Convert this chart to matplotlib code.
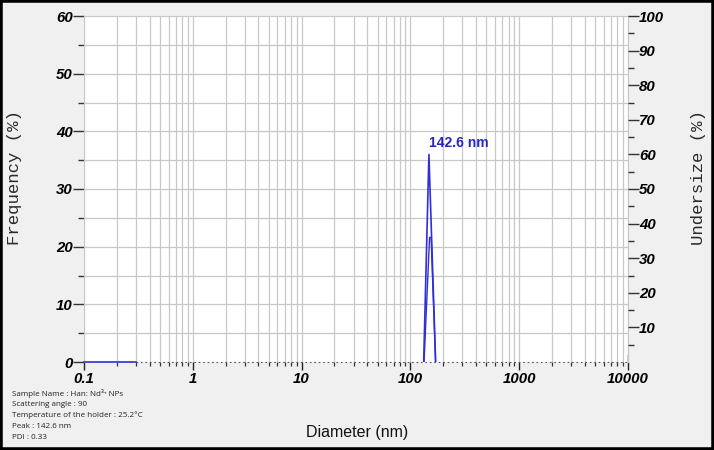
import numpy as np
import matplotlib
matplotlib.use('Agg')
import matplotlib.pyplot as plt
from matplotlib.patches import Rectangle
from matplotlib.ticker import FixedLocator, NullFormatter

# ---- data ----
freq_d = [0.1, 0.3]              # solid blue baseline at the left
freq_base = [0.0, 0.0]
peak_d = [132.5, 148.0, 170.5]   # frequency triangle (nm)
peak_f = [0.0, 36.0, 0.0]        # frequency (%)
under_d = [133.5, 150.0, 155.0, 170.5]
under_v = [0.0, 36.0, 36.0, 0.0]  # undersize (%)
peak_label = '142.6 nm'
x_ticks = [0.1, 1, 10, 100, 1000, 10000]
x_labels = ['0.1', '1', '10', '100', '1000', '10000']
info_lines = [
    'Sample Name : Han: Nd\u00b3\u207a NPs',
    'Scattering angle : 90',
    'Temperature of the holder : 25.2\u00b0C',
    'Peak : 142.6 nm',
    'PDI : 0.33',
]

BLUE = '#2f2fd8'
GRID = '#c8c8c8'
tick_font = dict(family='Liberation Sans', weight='bold', style='italic', size=10.8)

fig = plt.figure(figsize=(7.14, 4.5), dpi=100, facecolor='#f0f0f0')
ax = fig.add_axes([84 / 714, 1 - 362 / 450, 544 / 714, 346 / 450])
ax.set_facecolor('white')
ax.set_xscale('log')
ax.set_xlim(0.1, 10000)
ax.set_ylim(0, 60)

# grid
minors = [m * 10.0 ** e for e in range(-1, 4) for m in range(1, 10)] + [10000]
for xv in minors:
    ax.axvline(xv, color=GRID, lw=0.9, zorder=0)
for yv in range(5, 60, 5):
    ax.axhline(yv, color=GRID, lw=0.9, zorder=0)

for s in ax.spines.values():
    s.set_color(GRID)
ax.spines['bottom'].set_visible(False)

# dotted baseline
ax.plot([0.3, 10000], [0, 0], color='#555555', lw=0.8, ls=(0, (1.5, 2.5)), zorder=2, clip_on=False)

ax.plot(freq_d, freq_base, color=BLUE, lw=1.2, zorder=3, clip_on=False)
ax.plot(peak_d, peak_f, color=BLUE, lw=1.2, zorder=4)

ax2 = ax.twinx()
ax2.set_ylim(0, 100)
ax2.plot(under_d, under_v, color=BLUE, lw=1.0, zorder=4)
for s in ax2.spines.values():
    s.set_visible(False)

ax.annotate(peak_label, xy=(148, 36), xytext=(0, 3.5), textcoords='offset points',
            ha='left', va='bottom', color='#2424c8', fontsize=10,
            family='Liberation Sans', weight='bold')

# x ticks
ax.xaxis.set_major_locator(FixedLocator(x_ticks))
ax.xaxis.set_minor_locator(FixedLocator([v for v in minors if v not in x_ticks]))
ax.xaxis.set_minor_formatter(NullFormatter())
ax.set_xticklabels(x_labels, fontdict=tick_font)
ax.tick_params(axis='x', which='major', direction='out', length=6, width=1, color='#222222', pad=1)
ax.tick_params(axis='x', which='minor', direction='out', length=3, width=0.9, color='#333333')

# left y ticks
ax.set_yticks(range(0, 61, 10))
ax.set_yticks(range(5, 60, 10), minor=True)
ax.set_yticklabels([str(v) for v in range(0, 61, 10)], fontdict=tick_font)
ax.tick_params(axis='y', which='major', direction='out', length=8, width=1, color='#333333', pad=0)
ax.tick_params(axis='y', which='minor', direction='out', length=4, width=1, color='#333333')

# right y ticks
ax2.set_yticks(range(10, 101, 10))
ax2.set_yticks(range(5, 100, 10), minor=True)
ax2.set_yticklabels([str(v) for v in range(10, 101, 10)], fontdict=tick_font)
ax2.tick_params(axis='y', which='major', direction='out', length=8, width=1, color='#333333', pad=0)
ax2.tick_params(axis='y', which='minor', direction='out', length=4, width=1, color='#333333')
ax2.axvline(10000, ymin=0, ymax=0.02, color='#222222', lw=1)

# axis labels
fig.text(15 / 714, 1 - 178 / 450, 'Frequency (%)', rotation=90, ha='center', va='center',
         family='Liberation Mono', fontsize=12.5, color='#2a2a2a')
fig.text(699 / 714, 1 - 178 / 450, 'Undersize (%)', rotation=90, ha='center', va='center',
         family='Liberation Mono', fontsize=12.5, color='#2a2a2a')
fig.text(357 / 714, 1 - 432 / 450, 'Diameter (nm)', ha='center', va='center',
         family='Liberation Sans', fontsize=11.5, color='#111111')

for i, line in enumerate(info_lines):
    fig.text(12 / 714, 1 - (394 + 10.8 * i) / 450, line, ha='left', va='center',
             family=['Open Sans', 'Noto Sans', 'DejaVu Sans'], fontsize=5.8, color='#222222')

fig.patches.append(Rectangle((0, 0), 1, 1, transform=fig.transFigure, fill=False,
                             edgecolor='black', lw=4, zorder=10))

fig.savefig('out.png', dpi=100, facecolor=fig.get_facecolor())
